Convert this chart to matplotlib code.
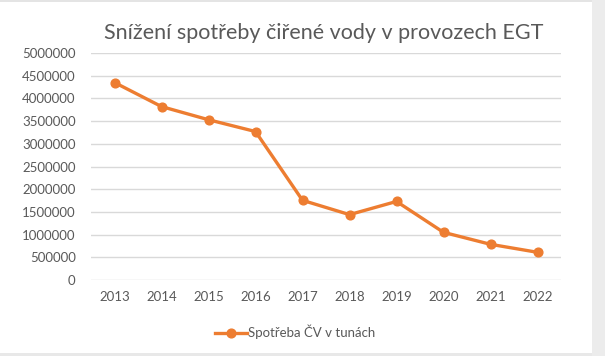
import matplotlib
matplotlib.use("Agg")
import matplotlib.pyplot as plt
from matplotlib.lines import Line2D
from matplotlib.patches import Rectangle

years = ["2013", "2014", "2015", "2016", "2017", "2018", "2019", "2020", "2021", "2022"]
values = [4350000, 3820000, 3530000, 3270000, 1755000, 1440000, 1730000, 1050000, 786000, 610000]
yticks = [0, 500000, 1000000, 1500000, 2000000, 2500000, 3000000, 3500000, 4000000, 4500000, 5000000]

title = "Snížení spotřeby čiřené vody v provozech EGT"
series_name = "Spotřeba ČV v tunách"

W, H = 605, 356
fig = plt.figure(figsize=(W / 100, H / 100), dpi=100)
fig.patch.set_facecolor("white")
plt.rcParams['font.family'] = ['Lato', 'DejaVu Sans']

# right grey strip and thin borders (screenshot frame)
fig.add_artist(Rectangle((592 / W, 0), 13 / W, 1, transform=fig.transFigure,
                         facecolor="#ececec", edgecolor="none"))
fig.add_artist(Rectangle((0, 1 - 2 / H), 592 / W, 2 / H, transform=fig.transFigure,
                         facecolor="#e4e4e4", edgecolor="none"))
fig.add_artist(Rectangle((0, 0), 592 / W, 3 / H, transform=fig.transFigure,
                         facecolor="#e8e8e8", edgecolor="none"))

left, right = 91, 561
top, bottom = 53, 280
ax = fig.add_axes([left / W, 1 - bottom / H, (right - left) / W, (bottom - top) / H])
ax.set_facecolor("none")

x = list(range(len(years)))
color = "#ED7D31"
ax.plot(x, values, color=color, lw=2.4, marker="o", ms=6.3, solid_joinstyle="round")

ax.set_xlim(-0.5, len(years) - 0.5)
ax.set_ylim(0, 5000000)
ax.set_yticks(yticks)
ax.set_yticklabels([str(v) for v in yticks])
ax.set_xticks(x)
ax.set_xticklabels(years)
ax.grid(axis="y", color="#d9d9d9", lw=1)
ax.set_axisbelow(True)
for s in ax.spines.values():
    s.set_visible(False)
ax.tick_params(axis="both", length=0, colors="#595959", labelsize=9.5)
ax.tick_params(axis="y", pad=11)
ax.tick_params(axis="x", pad=8)

fig.text(324 / W, 1 - 33 / H, title, ha="center", va="center", fontsize=15.5, color="#595959")

handle = Line2D([], [], color=color, lw=2.4, marker="o", ms=6.3)
fig.legend([handle], [series_name], loc="center", bbox_to_anchor=(295 / W, 1 - 332 / H),
           frameon=False, fontsize=9.5, labelcolor="#595959", handlelength=2.4,
           handletextpad=0.1)

fig.savefig("out.png", dpi=100, facecolor="white")
